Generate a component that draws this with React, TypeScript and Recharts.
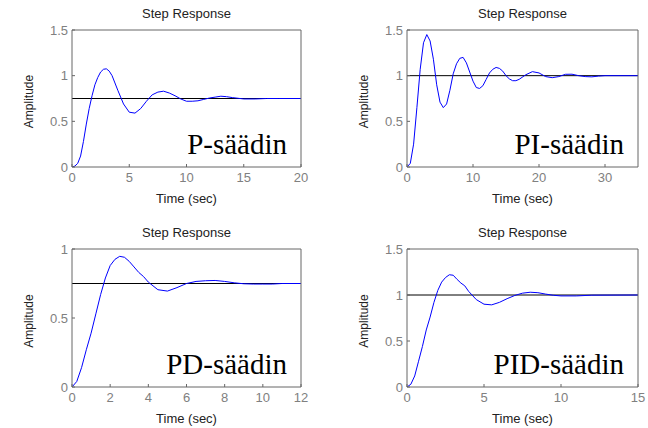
import React from "react";
import {
  LineChart,
  Line,
  XAxis,
  YAxis,
  ReferenceLine,
} from "recharts";

// P-controller
const pTime = [0, 0.25, 0.5, 0.75, 1, 1.25, 1.5, 1.75, 2, 2.25, 2.5, 2.75, 3, 3.25, 3.5, 3.75, 4, 4.5, 5, 5.5, 6, 6.5, 7, 7.5, 8, 8.5, 9, 9.5, 10, 10.5, 11, 11.5, 12, 12.5, 13, 13.5, 14, 15, 16, 17, 18, 20];
const pAmp = [0, 0.01, 0.04, 0.12, 0.28, 0.47, 0.64, 0.78, 0.9, 0.98, 1.04, 1.07, 1.075, 1.05, 1.0, 0.92, 0.84, 0.69, 0.6, 0.59, 0.64, 0.72, 0.79, 0.82, 0.83, 0.81, 0.78, 0.745, 0.72, 0.72, 0.725, 0.74, 0.755, 0.765, 0.775, 0.77, 0.76, 0.745, 0.745, 0.75, 0.75, 0.75];

// PI-controller
const piTime = [0, 0.5, 1, 1.5, 2, 2.5, 3, 3.5, 4, 4.5, 5, 5.5, 6, 6.5, 7, 7.5, 8, 8.5, 9, 9.5, 10, 10.5, 11, 11.5, 12, 12.5, 13, 13.5, 14, 14.5, 15, 15.5, 16, 16.5, 17, 18, 19, 20, 21, 22, 23, 24, 25, 26, 27, 28, 29, 30, 35];
const piAmp = [0, 0.04, 0.25, 0.65, 1.07, 1.36, 1.45, 1.38, 1.18, 0.9, 0.71, 0.65, 0.69, 0.84, 1.02, 1.13, 1.19, 1.2, 1.14, 1.04, 0.94, 0.87, 0.86, 0.89, 0.96, 1.03, 1.07, 1.09, 1.08, 1.05, 1.0, 0.965, 0.945, 0.945, 0.96, 1.01, 1.044, 1.03, 0.99, 0.978, 0.99, 1.015, 1.016, 1.0, 0.99, 0.987, 0.995, 1.0, 1.0];

// PD-controller
const pdTime = [0, 0.25, 0.5, 0.75, 1, 1.25, 1.5, 1.75, 2, 2.25, 2.5, 2.75, 3, 3.25, 3.5, 3.75, 4, 4.5, 5, 5.5, 6, 6.5, 7, 7.5, 8, 8.5, 9, 9.5, 10, 10.5, 11, 12];
const pdAmp = [0, 0.04, 0.14, 0.27, 0.39, 0.53, 0.67, 0.79, 0.88, 0.925, 0.947, 0.94, 0.91, 0.87, 0.83, 0.8, 0.76, 0.705, 0.695, 0.72, 0.75, 0.765, 0.77, 0.772, 0.765, 0.755, 0.748, 0.746, 0.746, 0.746, 0.75, 0.75];

// PID-controller
const pidTime = [0, 0.25, 0.5, 0.75, 1, 1.25, 1.5, 1.75, 2, 2.25, 2.5, 2.75, 3, 3.25, 3.5, 3.75, 4, 4.5, 5, 5.5, 6, 6.5, 7, 7.5, 8, 8.5, 9, 9.5, 10, 11, 12, 15];
const pidAmp = [0, 0.03, 0.12, 0.28, 0.44, 0.62, 0.76, 0.92, 1.05, 1.14, 1.19, 1.22, 1.215, 1.17, 1.13, 1.1, 1.04, 0.95, 0.9, 0.893, 0.92, 0.96, 0.995, 1.02, 1.03, 1.025, 1.01, 0.997, 0.99, 0.99, 0.998, 1.0];

const finalValues = [0.75, 1, 0.75, 1];
const xTicksP = [0, 5, 10, 15, 20];
const xTicksPI = [0, 10, 20, 30];
const xTicksPD = [0, 2, 4, 6, 8, 10, 12];
const xTicksPID = [0, 5, 10, 15];
const yTicks15 = [0, 0.5, 1, 1.5];
const yTicks1 = [0, 0.5, 1];
const labels = ["P-säädin", "PI-säädin", "PD-säädin", "PID-säädin"];

const SANS = "'Liberation Sans', Arial, sans-serif";
const SERIF = "'Liberation Serif', 'Times New Roman', serif";
const AXIS = "#666";
const TICK_TEXT = { fill: "#808080", fontSize: 13, fontFamily: SANS };

type Box = { x: number; y: number; w: number; h: number };

type PanelProps = {
  box: Box;
  time: number[];
  amp: number[];
  xMax: number;
  xTicks: number[];
  yMax: number;
  yTicks: number[];
  target: number;
  label: string;
};

function Panel({ box, time, amp, xMax, xTicks, yMax, yTicks, target, label }: PanelProps) {
  const data = time.map((t, i) => ({ t, a: amp[i] }));
  const padL = 60;
  const padT = 10;
  const padR = 10;
  const padB = 40;
  const w = box.w + padL + padR;
  const h = box.h + padT + padB;
  return (
    <div style={{ position: "absolute", left: box.x - padL, top: box.y - padT }}>
      <LineChart
        width={w}
        height={h}
        data={data}
        margin={{ top: padT - 1, right: padR - 1, left: 0, bottom: 0 }}
      >
        <XAxis
          xAxisId="b"
          dataKey="t"
          type="number"
          domain={[0, xMax]}
          ticks={xTicks}
          allowDataOverflow
          height={padB}
          stroke={AXIS}
          tickSize={-3}
          tickMargin={9}
          tick={TICK_TEXT}
        />
        <XAxis
          xAxisId="top"
          orientation="top"
          type="number"
          dataKey="t"
          domain={[0, xMax]}
          ticks={xTicks}
          allowDataOverflow
          height={1}
          stroke={AXIS}
          tickSize={-3}
          tick={false}
        />
        <YAxis
          yAxisId="l"
          type="number"
          domain={[0, yMax]}
          ticks={yTicks}
          allowDataOverflow
          width={padL}
          stroke={AXIS}
          tickSize={-3}
          tickMargin={7}
          tick={TICK_TEXT}
        />
        <YAxis
          yAxisId="r"
          orientation="right"
          type="number"
          domain={[0, yMax]}
          ticks={yTicks}
          allowDataOverflow
          width={1}
          stroke={AXIS}
          tickSize={-3}
          tick={false}
        />
        <ReferenceLine xAxisId="b" yAxisId="l" y={target} stroke="#000" strokeWidth={1} />
        <Line
          xAxisId="b"
          yAxisId="l"
          type="linear"
          dataKey="a"
          stroke="#0000ff"
          strokeWidth={1}
          dot={false}
          isAnimationActive={false}
        />
        <Line
          xAxisId="top"
          yAxisId="r"
          type="linear"
          dataKey="a"
          stroke="none"
          dot={false}
          isAnimationActive={false}
        />
      </LineChart>
      <svg
        width={w}
        height={h}
        style={{ position: "absolute", left: 0, top: 0, pointerEvents: "none", overflow: "visible" }}
      >
        <text
          x={padL + box.w - 14}
          y={padT + box.h - 13}
          textAnchor="end"
          fontFamily={SERIF}
          fontSize={29}
          fill="#000"
        >
          {label}
        </text>
      </svg>
    </div>
  );
}

function Titles({ box }: { box: Box }) {
  const cx = box.x + box.w / 2;
  const ax = box.x - 39;
  const ay = box.y + box.h / 2 + 3;
  return (
    <g fontFamily={SANS} fill="#222">
      <text x={cx} y={box.y - 12} textAnchor="middle" fontSize={13}>
        Step Response
      </text>
      <text x={cx} y={box.y + box.h + 36} textAnchor="middle" fontSize={13}>
        Time (sec)
      </text>
      <text x={ax} y={ay} textAnchor="middle" fontSize={12} transform={`rotate(-90 ${ax} ${ay})`}>
        Amplitude
      </text>
    </g>
  );
}

export default function App() {
  const boxes: Box[] = [
    { x: 72, y: 30, w: 229, h: 137 },
    { x: 407, y: 30, w: 231, h: 137 },
    { x: 72, y: 249, w: 229, h: 138 },
    { x: 407, y: 249, w: 231, h: 138 },
  ];
  return (
    <div style={{ position: "absolute", left: 0, top: 0, width: 648, height: 428, background: "#fff" }}>
      <Panel box={boxes[0]} time={pTime} amp={pAmp} xMax={20} xTicks={xTicksP} yMax={1.5} yTicks={yTicks15} target={finalValues[0]} label={labels[0]} />
      <Panel box={boxes[1]} time={piTime} amp={piAmp} xMax={35} xTicks={xTicksPI} yMax={1.5} yTicks={yTicks15} target={finalValues[1]} label={labels[1]} />
      <Panel box={boxes[2]} time={pdTime} amp={pdAmp} xMax={12} xTicks={xTicksPD} yMax={1} yTicks={yTicks1} target={finalValues[2]} label={labels[2]} />
      <Panel box={boxes[3]} time={pidTime} amp={pidAmp} xMax={15} xTicks={xTicksPID} yMax={1.5} yTicks={yTicks15} target={finalValues[3]} label={labels[3]} />
      <svg width={648} height={428} style={{ position: "absolute", left: 0, top: 0, pointerEvents: "none" }}>
        {boxes.map((b, i) => (
          <Titles key={i} box={b} />
        ))}
      </svg>
    </div>
  );
}
